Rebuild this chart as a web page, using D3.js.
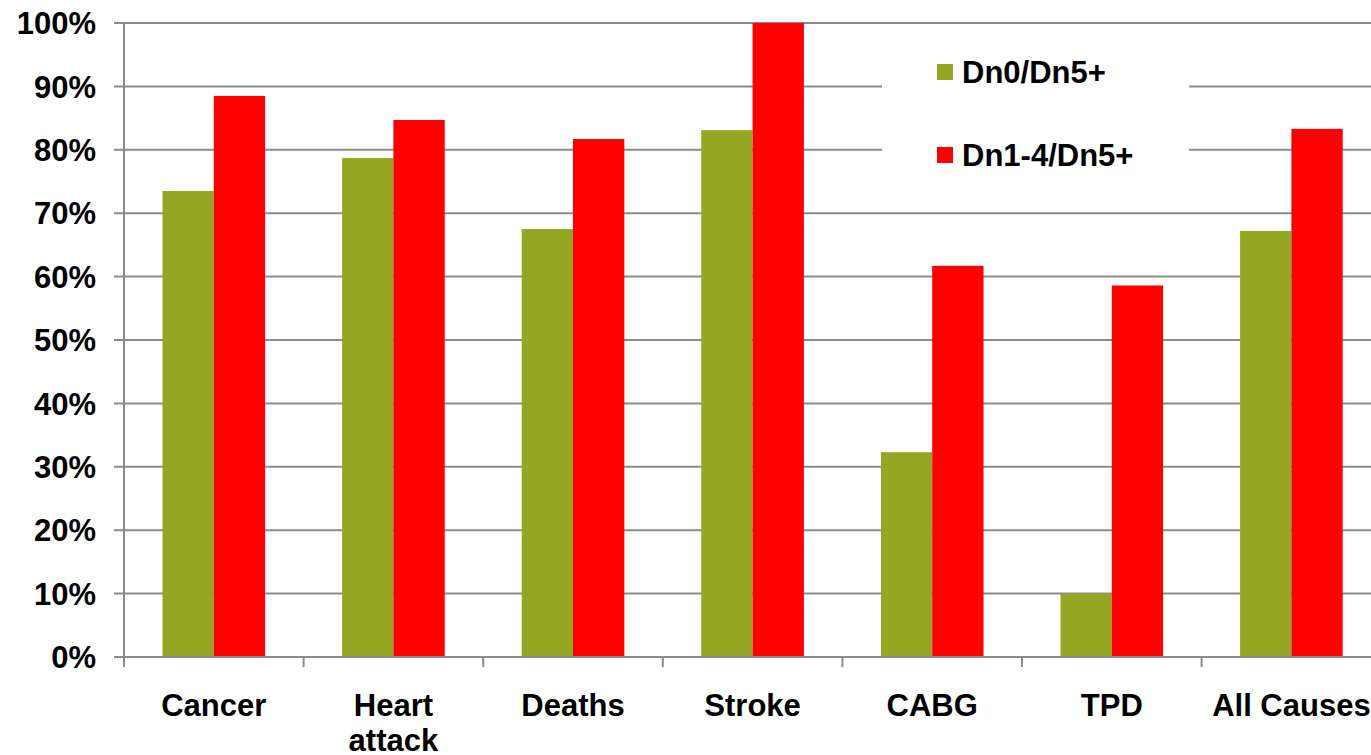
<!DOCTYPE html>
<html>
<head>
<meta charset="utf-8">
<script src="https://cdn.jsdelivr.net/npm/d3@7"></script>
<style>
  body { margin: 0; background: #fff; }
  text { font-family: "Liberation Sans", Arial, sans-serif; font-weight: bold; fill: #000; }
</style>
</head>
<body>
<div id="chart"></div>
<script>
// data
const categories = ["Cancer", "Heart attack", "Deaths", "Stroke", "CABG", "TPD", "All Causes"];
const categoryLines = [["Cancer"], ["Heart", "attack"], ["Deaths"], ["Stroke"], ["CABG"], ["TPD"], ["All Causes"]];
const seriesNames = ["Dn0/Dn5+", "Dn1-4/Dn5+"];
const dn0 = [73.5, 78.7, 67.5, 83.1, 32.3, 10.0, 67.2];
const dn14 = [88.5, 84.7, 81.7, 100.0, 61.7, 58.6, 83.3];
const yTicks = [0, 10, 20, 30, 40, 50, 60, 70, 80, 90, 100];
const colors = ["#95a623", "#ff0000"];

const W = 1371, H = 755;
const margin = { top: 23, left: 124 };
const step = 179.6;
const plotW = step * categories.length;
const plotH = 634;

const svg = d3.select("#chart").append("svg")
  .attr("width", W)
  .attr("height", H);

const g = svg.append("g")
  .attr("transform", `translate(${margin.left}, ${margin.top})`);

const x = d3.scaleBand().domain(categories).range([0, plotW]);
const xs = d3.scaleBand().domain(seriesNames).range([0, x.bandwidth()]).paddingOuter(0.75);
const y = d3.scaleLinear().domain([0, 100]).range([plotH, 0]);

// gridlines
g.append("g")
  .selectAll("line")
  .data(yTicks)
  .join("line")
  .attr("x1", -10)
  .attr("x2", plotW)
  .attr("y1", d => y(d))
  .attr("y2", d => y(d))
  .attr("stroke", "#8c8c8c")
  .attr("stroke-width", 2);

// y labels
g.append("g")
  .selectAll("text")
  .data(yTicks)
  .join("text")
  .attr("x", -28)
  .attr("y", d => y(d))
  .attr("dy", "0.36em")
  .attr("text-anchor", "end")
  .style("font-size", "31px")
  .text(d => d + "%");

// bars
const rows = categories.map((c, i) => ({ cat: c, vals: [dn0[i], dn14[i]] }));
const grp = g.append("g").selectAll("g")
  .data(rows)
  .join("g")
  .attr("transform", d => `translate(${x(d.cat)}, 0)`);

grp.selectAll("rect")
  .data(d => d.vals.map((v, k) => ({ s: seriesNames[k], v: v, k: k })))
  .join("rect")
  .attr("x", d => xs(d.s))
  .attr("width", xs.bandwidth())
  .attr("y", d => y(d.v))
  .attr("height", d => plotH - y(d.v))
  .attr("fill", d => colors[d.k]);

// axes lines
g.append("line")
  .attr("x1", 0).attr("x2", 0)
  .attr("y1", 0).attr("y2", plotH + 10)
  .attr("stroke", "#8c8c8c").attr("stroke-width", 2);
g.append("line")
  .attr("x1", 0).attr("x2", plotW)
  .attr("y1", plotH).attr("y2", plotH)
  .attr("stroke", "#8c8c8c").attr("stroke-width", 2);
g.append("g")
  .selectAll("line")
  .data(categories.slice(1))
  .join("line")
  .attr("x1", d => x(d)).attr("x2", d => x(d))
  .attr("y1", plotH).attr("y2", plotH + 10)
  .attr("stroke", "#8c8c8c").attr("stroke-width", 2);

// category labels
const lab = g.append("g")
  .selectAll("text")
  .data(categories)
  .join("text")
  .attr("x", d => x(d) + x.bandwidth() / 2)
  .attr("y", plotH + 59)
  .attr("text-anchor", "middle")
  .style("font-size", "31px");
lab.selectAll("tspan")
  .data((d, i) => categoryLines[i])
  .join("tspan")
  .attr("x", function() { return d3.select(this.parentNode).attr("x"); })
  .attr("dy", (d, i) => i === 0 ? 0 : 35)
  .text(d => d);

// legend
const leg = svg.append("g");
leg.append("rect")
  .attr("x", 882).attr("y", 40)
  .attr("width", 307).attr("height", 160)
  .attr("fill", "#fff");
const items = leg.selectAll("g")
  .data(seriesNames)
  .join("g")
  .attr("transform", (d, i) => `translate(937, ${64 + i * 83})`);
items.append("rect")
  .attr("width", 16).attr("height", 16)
  .attr("fill", (d, i) => colors[i]);
items.append("text")
  .attr("x", 25).attr("y", 19)
  .style("font-size", "31px")
  .text(d => d);
</script>
</body>
</html>
